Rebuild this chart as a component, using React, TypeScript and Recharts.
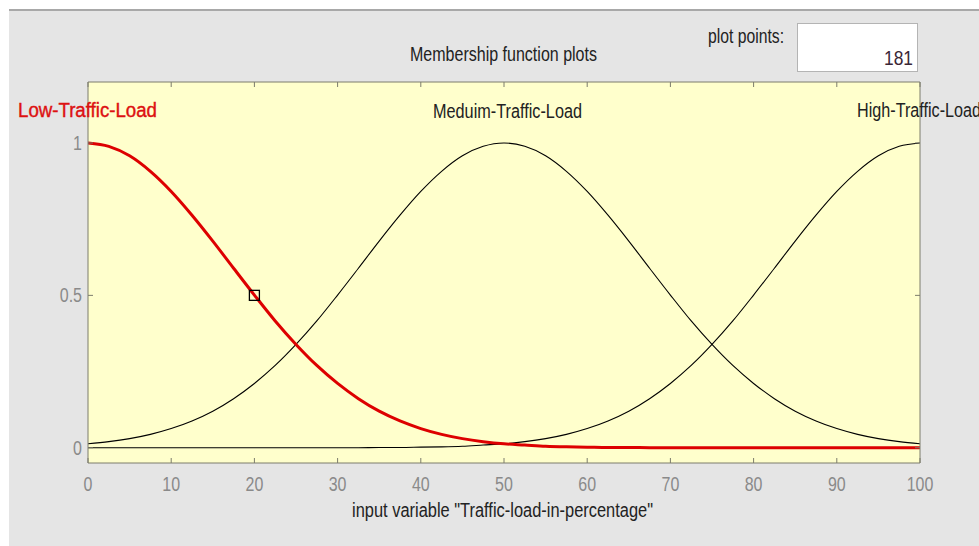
import React from "react";
import { LineChart, Line, XAxis, YAxis, ReferenceArea, ReferenceDot } from "recharts";

const xValues = [0, 2.5, 5, 7.5, 10, 12.5, 15, 17.5, 20, 22.5, 25, 27.5, 30, 32.5, 35, 37.5, 40, 42.5, 45, 47.5, 50, 52.5, 55, 57.5, 60, 62.5, 65, 67.5, 70, 72.5, 75, 77.5, 80, 82.5, 85, 87.5, 90, 92.5, 95, 97.5, 100];

const lowTraffic = [1, 0.989, 0.958, 0.907, 0.841, 0.763, 0.678, 0.589, 0.501, 0.416, 0.339, 0.27, 0.211, 0.161, 0.12, 0.088, 0.063, 0.044, 0.03, 0.02, 0.013, 0.009, 0.005, 0.003, 0.002, 0.001, 0.001, 0, 0, 0, 0, 0, 0, 0, 0, 0, 0, 0, 0, 0, 0];

const mediumTraffic = [0.013, 0.02, 0.03, 0.044, 0.063, 0.088, 0.12, 0.161, 0.211, 0.27, 0.339, 0.416, 0.501, 0.589, 0.678, 0.763, 0.841, 0.907, 0.958, 0.989, 1, 0.989, 0.958, 0.907, 0.841, 0.763, 0.678, 0.589, 0.501, 0.416, 0.339, 0.27, 0.211, 0.161, 0.12, 0.088, 0.063, 0.044, 0.03, 0.02, 0.013];

const highTraffic = [0, 0, 0, 0, 0, 0, 0, 0, 0, 0, 0, 0, 0, 0, 0.001, 0.001, 0.002, 0.003, 0.005, 0.009, 0.013, 0.02, 0.03, 0.044, 0.063, 0.088, 0.12, 0.161, 0.211, 0.27, 0.339, 0.416, 0.501, 0.589, 0.678, 0.763, 0.841, 0.907, 0.958, 0.989, 1];

const xTicks = [0, 10, 20, 30, 40, 50, 60, 70, 80, 90, 100];
const yTicks = [0, 0.5, 1];
const xDomain = [0, 100];
const yDomain = [-0.05, 1.2];
const markerPoint = { x: 20, y: 0.5 };

const data = xValues.map((x, i) => ({
  x,
  low: lowTraffic[i],
  medium: mediumTraffic[i],
  high: highTraffic[i],
}));

const FONT = "'Liberation Sans', Arial, sans-serif";
const AXIS_COLOR = "#7c7c6c";
const TICK_COLOR = "#8a8a8a";

const XTick = (props: any) => {
  const { x, y, payload } = props;
  return (
    <text
      transform={`translate(${x},${y + 28}) scale(0.82,1)`}
      textAnchor="middle"
      fill={TICK_COLOR}
      fontSize={19.5}
      fontFamily={FONT}
    >
      {String(payload.value)}
    </text>
  );
};

const YTick = (props: any) => {
  const { x, y, payload } = props;
  return (
    <text
      transform={`translate(${x},${y + 7}) scale(0.82,1)`}
      textAnchor="end"
      fill={TICK_COLOR}
      fontSize={19.5}
      fontFamily={FONT}
    >
      {String(payload.value)}
    </text>
  );
};

const NoTick = () => <g />;

const SquareMarker = (props: any) => {
  const { cx, cy } = props;
  return <rect x={cx - 5} y={cy - 5} width={10} height={10} fill="none" stroke="#000" strokeWidth={1.3} />;
};

export default function App() {
  return (
    <div style={{ position: "absolute", left: 0, top: 0, width: 979, height: 546, background: "#fff", overflow: "hidden" }}>
      <div
        style={{
          position: "absolute",
          left: 9,
          top: 9,
          width: 970,
          height: 537,
          background: "#e5e5e5",
          borderTop: "2px solid #a8a8a8",
          boxSizing: "border-box",
        }}
      />
      <div
        style={{
          position: "absolute",
          left: 797,
          top: 23,
          width: 121,
          height: 49,
          background: "#fff",
          border: "1px solid #b4b4b4",
          boxSizing: "border-box",
        }}
      />
      <div style={{ position: "absolute", left: 0, top: 0 }}>
        <LineChart
          width={979}
          height={546}
          data={data}
          margin={{ top: 81, right: 58, bottom: 82, left: 87 }}
        >
          <ReferenceArea
            x1={xDomain[0]}
            x2={xDomain[1]}
            y1={yDomain[0]}
            y2={yDomain[1]}
            fill="#ffffcc"
            fillOpacity={1}
            stroke="none"
            ifOverflow="extendDomain"
          />
          <XAxis
            dataKey="x"
            type="number"
            domain={xDomain}
            ticks={xTicks}
            height={1}
            stroke={AXIS_COLOR}
            tickSize={-5}
            tickMargin={5}
            tick={XTick}
            allowDataOverflow
          />
          <XAxis
            xAxisId="top"
            orientation="top"
            dataKey="x"
            type="number"
            domain={xDomain}
            ticks={xTicks}
            height={1}
            stroke={AXIS_COLOR}
            tickSize={-5}
            tick={NoTick}
            allowDataOverflow
          />
          <YAxis
            type="number"
            domain={yDomain}
            ticks={yTicks}
            width={1}
            stroke={AXIS_COLOR}
            tickSize={-5}
            tickMargin={11}
            tick={YTick}
            allowDataOverflow
          />
          <YAxis
            yAxisId="right"
            orientation="right"
            type="number"
            domain={yDomain}
            ticks={yTicks}
            width={1}
            stroke={AXIS_COLOR}
            tickSize={-5}
            tick={NoTick}
            allowDataOverflow
          />
          <Line dataKey="medium" type="monotone" stroke="#000" strokeWidth={1.1} dot={false} isAnimationActive={false} />
          <Line dataKey="high" type="monotone" stroke="#000" strokeWidth={1.1} dot={false} isAnimationActive={false} />
          <Line dataKey="low" type="monotone" stroke="#dd0000" strokeWidth={3} dot={false} isAnimationActive={false} />
          <ReferenceDot x={markerPoint.x} y={markerPoint.y} shape={SquareMarker} />
        </LineChart>
      </div>
      <svg
        width={979}
        height={546}
        style={{ position: "absolute", left: 0, top: 0, pointerEvents: "none" }}
        fontFamily={FONT}
        fontSize={19.5}
      >
        <text x={503.5} y={61} textAnchor="middle" textLength={187} lengthAdjust="spacingAndGlyphs" fill="#222">
          Membership function plots
        </text>
        <text x={708} y={43} textLength={76} lengthAdjust="spacingAndGlyphs" fill="#222">
          plot points:
        </text>
        <text x={913} y={65} textAnchor="end" textLength={29} lengthAdjust="spacingAndGlyphs" fill="#3a2636">
          181
        </text>
        <text x={18} y={117} textLength={139} lengthAdjust="spacingAndGlyphs" fill="#dd1111" stroke="#dd1111" strokeWidth={0.4}>
          Low-Traffic-Load
        </text>
        <text x={433} y={118} textLength={149} lengthAdjust="spacingAndGlyphs" fill="#222">
          Meduim-Traffic-Load
        </text>
        <text x={857} y={117} textLength={124} lengthAdjust="spacingAndGlyphs" fill="#222">
          High-Traffic-Load
        </text>
        <text x={502.5} y={517} textAnchor="middle" textLength={301} lengthAdjust="spacingAndGlyphs" fill="#222">
          input variable "Traffic-load-in-percentage"
        </text>
      </svg>
    </div>
  );
}
